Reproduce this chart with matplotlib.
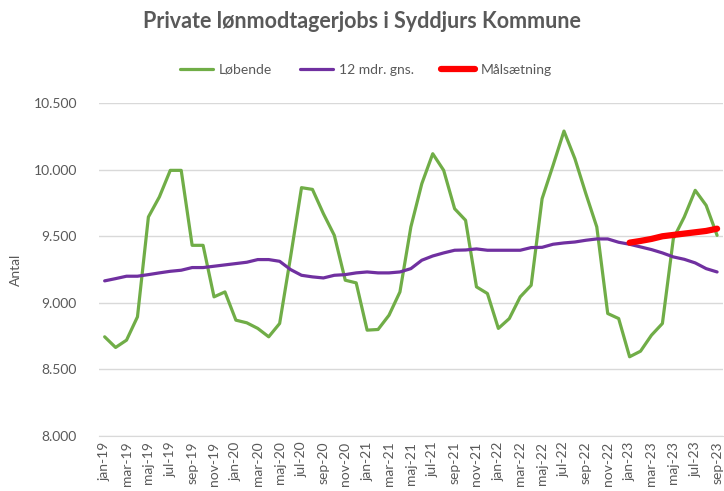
import matplotlib
matplotlib.use("Agg")
import matplotlib.pyplot as plt
from matplotlib.ticker import FuncFormatter

matplotlib.rcParams.update({
    "font.family": ["Lato", "DejaVu Sans"],
    "font.size": 10,
})

MONTHS = ["jan", "feb", "mar", "apr", "maj", "jun", "jul", "aug", "sep", "okt", "nov", "dec"]
labels = [f"{MONTHS[i % 12]}-{19 + i // 12}" for i in range(57)]

lobende = [8745, 8665, 8720, 8895, 9645, 9795, 9995, 9995, 9432, 9432, 9045, 9082,
           8870, 8850, 8808, 8745, 8845, 9345, 9865, 9852, 9670, 9507, 9170, 9150,
           8795, 8800, 8907, 9082, 9570, 9895, 10120, 9995, 9707, 9620, 9120, 9070,
           8808, 8882, 9045, 9132, 9782, 10032, 10290, 10082, 9820, 9570, 8920, 8882,
           8595, 8637, 8757, 8845, 9482, 9645, 9845, 9732, 9507]

gns12 = [9165, 9182, 9200, 9200, 9212, 9225, 9237, 9245, 9265, 9265, 9275, 9285,
         9295, 9305, 9325, 9325, 9312, 9250, 9207, 9195, 9187, 9207, 9212, 9225,
         9232, 9225, 9225, 9232, 9257, 9320, 9352, 9375, 9395, 9397, 9405, 9395,
         9395, 9395, 9395, 9415, 9417, 9440, 9450, 9457, 9470, 9480, 9480, 9455,
         9440, 9420, 9400, 9375, 9345, 9327, 9300, 9257, 9232]

# target from jan-23 (index 48) to sep-23
maal_start = 48
maal = [9452, 9465, 9480, 9500, 9510, 9520, 9530, 9540, 9557]

GRAY = "#595959"

fig = plt.figure(figsize=(7.24, 4.91), dpi=100)
ax = fig.add_axes([0.137, 0.112, 0.861, 0.678])

x = list(range(len(labels)))
ax.plot(x, lobende, color="#70AD47", lw=2.3, label="Løbende", solid_capstyle="round")
ax.plot(x, gns12, color="#7030A0", lw=2.3, label="12 mdr. gns.", solid_capstyle="round")
ax.plot(range(maal_start, maal_start + len(maal)), maal, color="#FF0000", lw=4.5,
        label="Målsætning", solid_capstyle="round")

ax.set_xlim(-0.5, len(labels) - 0.5)
ax.set_ylim(8000, 10500)
ax.set_yticks(range(8000, 10501, 500))
ax.yaxis.set_major_formatter(FuncFormatter(lambda v, p: f"{int(v):,}".replace(",", ".")))
ax.set_xticks(x[::2])
ax.set_xticklabels(labels[::2], rotation=90)

ax.grid(axis="y", color="#D9D9D9", lw=1)
ax.set_axisbelow(True)
for s in ["top", "right", "left"]:
    ax.spines[s].set_visible(False)
ax.spines["bottom"].set_color("#D9D9D9")
ax.tick_params(length=0, colors=GRAY, labelsize=10)
ax.tick_params(axis="y", pad=16, labelsize=10)
ax.tick_params(axis="x", pad=4)

ax.set_ylabel("Antal", color=GRAY, fontsize=10, labelpad=8)

fig.suptitle("Private lønmodtagerjobs i Syddjurs Kommune", x=0.5, y=0.978,
             fontsize=15.5, fontweight="bold", color=GRAY)
fig.legend(loc="center", bbox_to_anchor=(0.505, 0.858), ncol=3, frameon=False,
           fontsize=10, handlelength=2.4, columnspacing=2.0, handletextpad=0.4,
           labelcolor=GRAY)

fig.savefig("out.png", dpi=100)
